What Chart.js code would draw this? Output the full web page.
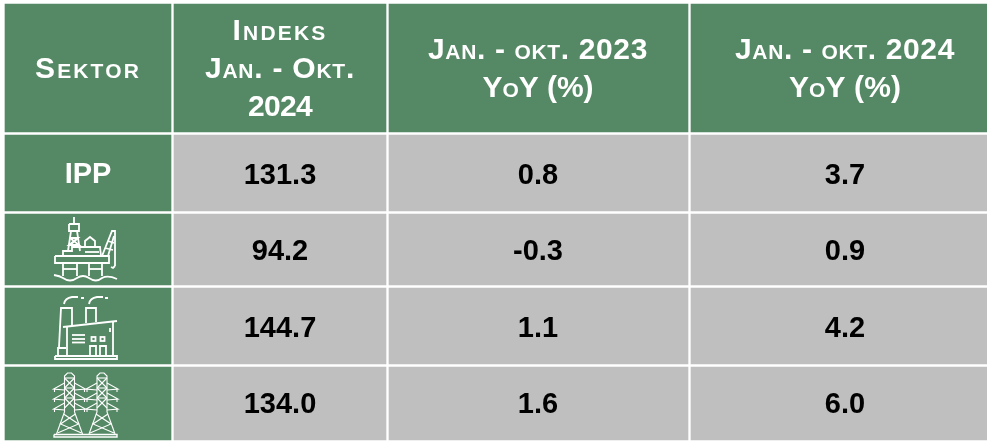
<!DOCTYPE html>
<html>
<head>
<meta charset="utf-8">
<title>Indeks sektor</title>
<script src="https://cdn.jsdelivr.net/npm/chart.js@4"></script>
<style>
  html, body { margin: 0; padding: 0; background: #fff; }
  #wrap { width: 987px; height: 441px; }
</style>
</head>
<body>
<div id="wrap"><canvas id="tabel" width="987" height="441"></canvas></div>
<script>
// table content
const headers = [
    ['Sektor'],
    ['Indeks', 'Jan. - Okt.', '2024'],
    ['Jan. - okt. 2023', 'YoY (%)'],
    ['Jan. - okt. 2024', 'YoY (%)']
];
const sectors = ['IPP', 'icon:mining', 'icon:factory', 'icon:tower'];
const indeks2024 = ['131.3', '94.2', '144.7', '134.0'];
const yoy2023 = ['0.8', '-0.3', '1.1', '1.6'];
const yoy2024 = ['3.7', '0.9', '4.2', '6.0'];

// layout of the grid, in page pixels
const colEdges = [[5, 171], [174, 386], [389, 688], [691, 987]];
const rowEdges = [[4, 132], [135, 211], [214, 285], [288, 364], [367, 440]];
// last column runs off the picture, so its text is not centred on the visible part
const textCentres = [88, 280, 538, 845];
const valueCentres = [175.5, 251.5, 328.5, 404.5];
// printed width of each header line
const headerWidths = [[106], [95, 150, 64], [220, 111], [220, 112]];

const GREEN = '#558864';
const GREY = '#bfbfbf';
const FONT = '"Liberation Sans", Arial, sans-serif';

// one bar dataset per table row, each bar is a cell
function rowDataset(rowIdx) {
    const r = rowEdges[rowIdx];
    return {
        data: colEdges.map(c => ({ x: c, y: (r[0] + r[1]) / 2 })),
        barThickness: r[1] - r[0],
        backgroundColor: colEdges.map((c, i) => (rowIdx === 0 || i === 0) ? GREEN : GREY),
        borderWidth: 0,
        grouped: false
    };
}

function line(ctx, pts) {
    ctx.beginPath();
    pts.forEach((p, i) => i ? ctx.lineTo(p[0], p[1]) : ctx.moveTo(p[0], p[1]));
    ctx.stroke();
}

// icons are drawn in page pixels
const icons = {
    mining(ctx) {
        // derrick
        line(ctx, [[74, 217], [74, 224]]);
        line(ctx, [[69, 224], [79, 224], [79, 231], [69, 231], [69, 224]]);
        line(ctx, [[71, 231], [68, 251]]);
        line(ctx, [[77, 231], [80, 251]]);
        line(ctx, [[70, 238], [78, 238], [69, 245], [79, 245], [70, 238]]);
        line(ctx, [[78, 238], [70, 245]]);
        // cabin and deck
        line(ctx, [[85, 247], [85, 241], [90, 237], [95, 241], [95, 247]]);
        line(ctx, [[63, 256], [63, 251], [72, 251], [72, 247], [100, 247], [101, 256]]);
        line(ctx, [[55, 256], [109, 256], [109, 263], [55, 263], [55, 256]]);
        line(ctx, [[85, 252], [99, 252]]);
        // crane
        line(ctx, [[102, 256], [112, 231], [115, 231], [115, 266]]);
        line(ctx, [[108, 256], [114, 236]]);
        line(ctx, [[105, 248], [113, 250]]);
        line(ctx, [[108, 241], [114, 243]]);
        line(ctx, [[115, 266], [113, 268], [111, 267]]);
        // legs
        line(ctx, [[63, 263], [63, 276]]);
        line(ctx, [[77, 263], [77, 276]]);
        line(ctx, [[89, 263], [89, 276]]);
        line(ctx, [[102, 263], [102, 276]]);
        line(ctx, [[63, 269], [77, 269]]);
        line(ctx, [[89, 269], [102, 269]]);
        // sea
        ctx.beginPath();
        ctx.moveTo(54, 275);
        ctx.quadraticCurveTo(60, 276, 63, 278);
        ctx.quadraticCurveTo(70, 283, 77, 278);
        ctx.quadraticCurveTo(83, 274, 89, 278);
        ctx.quadraticCurveTo(96, 283, 102, 278);
        ctx.quadraticCurveTo(108, 275, 117, 279);
        ctx.stroke();
    },
    factory(ctx) {
        // smoke
        ctx.beginPath();
        ctx.moveTo(64, 304);
        ctx.quadraticCurveTo(65, 298, 72, 297);
        ctx.lineTo(78, 297);
        ctx.moveTo(81, 298);
        ctx.lineTo(84, 298);
        ctx.moveTo(89, 304);
        ctx.quadraticCurveTo(90, 298, 97, 297);
        ctx.lineTo(103, 297);
        ctx.moveTo(105, 298);
        ctx.lineTo(108, 298);
        ctx.stroke();
        // chimneys
        line(ctx, [[59, 347], [61, 308], [72, 308], [72, 326]]);
        line(ctx, [[86, 323], [86, 308], [96, 308], [96, 322]]);
        // building
        line(ctx, [[63, 327], [117, 321]]);
        line(ctx, [[67, 327], [67, 356]]);
        line(ctx, [[113, 322], [113, 356]]);
        line(ctx, [[58, 356], [58, 348], [66, 348]]);
        line(ctx, [[55, 356], [117, 356], [117, 359], [55, 359], [55, 356]]);
        line(ctx, [[110, 328], [110, 332]]);
        // vents
        line(ctx, [[72, 335], [85, 335]]);
        line(ctx, [[72, 339], [85, 339]]);
        line(ctx, [[72, 342.5], [85, 342.5]]);
        // windows
        ctx.strokeRect(91.5, 337, 4, 4);
        ctx.strokeRect(100.5, 337, 4, 4);
        line(ctx, [[90, 355], [90, 346], [96, 346], [96, 355]]);
        line(ctx, [[100, 355], [100, 346], [106, 346], [106, 355]]);
    },
    tower(ctx) {
        ctx.lineWidth = 1.1;
        [69.5, 102].forEach(cx => {
            line(ctx, [[cx - 5, 412], [cx - 5, 376], [cx - 2, 373], [cx + 2, 373], [cx + 5, 376], [cx + 5, 412]]);
            line(ctx, [[cx - 5, 412], [cx - 13, 434]]);
            line(ctx, [[cx + 5, 412], [cx + 13, 434]]);
            // bracing
            for (let y = 378; y < 408; y += 10) {
                line(ctx, [[cx - 5, y], [cx + 5, y + 10]]);
                line(ctx, [[cx + 5, y], [cx - 5, y + 10]]);
                line(ctx, [[cx - 5, y], [cx + 5, y]]);
            }
            line(ctx, [[cx - 6, 414], [cx + 9, 424], [cx - 12, 433]]);
            line(ctx, [[cx + 6, 414], [cx - 9, 424], [cx + 12, 433]]);
            // arms
            [383, 393, 403].forEach(y0 => {
                line(ctx, [[cx - 5, y0], [cx - 16, y0 + 6], [cx - 5, y0 + 7]]);
                line(ctx, [[cx + 5, y0], [cx + 16, y0 + 6], [cx + 5, y0 + 7]]);
                line(ctx, [[cx - 15, y0 + 6], [cx - 15, y0 + 9]]);
                line(ctx, [[cx + 15, y0 + 6], [cx + 15, y0 + 9]]);
            });
        });
        ctx.lineWidth = 1.4;
        line(ctx, [[54, 434.5], [117, 434.5], [117, 437], [54, 437], [54, 434.5]]);
    }
};

const cellText = {
    id: 'cellText',
    afterDatasetsDraw(chart) {
        const { ctx, scales } = chart;
        const centreX = i => scales.x.getPixelForValue(textCentres[i]);
        const centreY = i => scales.y.getPixelForValue(valueCentres[i]);
        ctx.save();
        ctx.textAlign = 'center';
        ctx.textBaseline = 'middle';

        // header row, letter spacing fits each line to its printed width
        ctx.fillStyle = '#ffffff';
        ctx.font = 'small-caps bold 30px ' + FONT;
        headers.forEach((lines, c) => {
            const start = c === 1 ? 31.5 : (c === 0 ? 69.5 : 50.5);
            lines.forEach((t, i) => {
                ctx.letterSpacing = '0px';
                const w = ctx.measureText(t).width;
                ctx.letterSpacing = ((headerWidths[c][i] - w) / t.length).toFixed(2) + 'px';
                ctx.fillText(t, centreX(c), start + i * 38);
            });
        });
        ctx.letterSpacing = '0px';

        // sector column
        ctx.font = 'bold 29px ' + FONT;
        sectors.forEach((s, r) => {
            if (s.indexOf('icon:') === 0) {
                ctx.save();
                ctx.strokeStyle = '#ffffff';
                ctx.lineWidth = 1.8;
                icons[s.slice(5)](ctx);
                ctx.restore();
            } else {
                ctx.fillText(s, centreX(0), centreY(r) - 1);
            }
        });

        // values
        ctx.fillStyle = '#000000';
        [indeks2024, yoy2023, yoy2024].forEach((vals, c) => {
            vals.forEach((v, r) => ctx.fillText(v, centreX(c + 1), centreY(r)));
        });
        ctx.restore();
    }
};

new Chart(document.getElementById('tabel'), {
    type: 'bar',
    data: {
        datasets: rowEdges.map((r, i) => rowDataset(i))
    },
    options: {
        indexAxis: 'y',
        responsive: false,
        animation: false,
        layout: { padding: 0 },
        plugins: { legend: { display: false }, tooltip: { enabled: false } },
        scales: {
            x: { type: 'linear', min: 0, max: 987, offset: false, display: false },
            y: { type: 'linear', min: 0, max: 441, reverse: true, offset: false, display: false }
        }
    },
    plugins: [cellText]
});
</script>
</body>
</html>
